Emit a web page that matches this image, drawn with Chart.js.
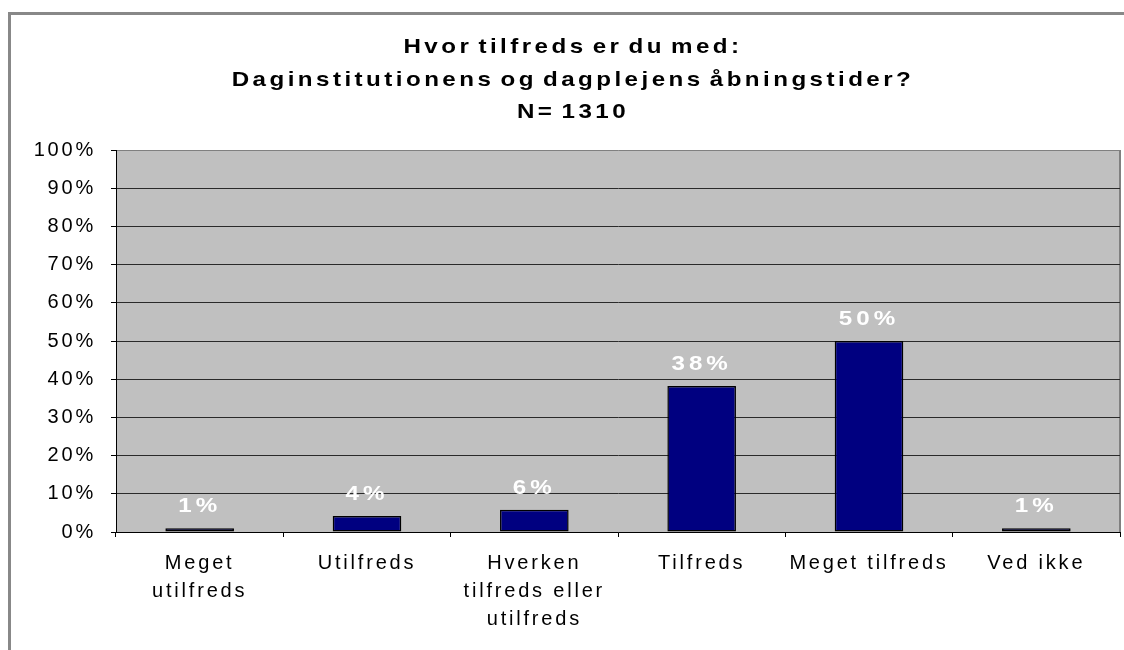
<!DOCTYPE html>
<html lang="da">
<head>
  <meta charset="UTF-8">
  <title>Hvor tilfreds er du med åbningstider</title>
  <script src="https://cdn.jsdelivr.net/npm/chart.js"></script>
  <style>
    html, body { margin: 0; padding: 0; background: #fff; overflow: hidden; }
    #frame {
      position: absolute; left: 8px; top: 12px; width: 1300px; height: 800px;
      border-left: 3px solid #888; border-top: 3px solid #888;
    }
    #chart { position: absolute; left: 0; top: 0; }
  </style>
</head>
<body>
  <div id="frame"></div>
  <canvas id="chart" width="1124" height="650"></canvas>
  <script>
    // data
    const categories = [
      ['Meget', 'utilfreds'],
      'Utilfreds',
      ['Hverken', 'tilfreds eller', 'utilfreds'],
      'Tilfreds',
      'Meget tilfreds',
      'Ved ikke'
    ];
    const percentages = [1.0, 4.2, 5.8, 38.2, 50.0, 1.0];
    const titleLines = ['Hvor tilfreds er du med:', 'Daginstitutionens og dagplejens åbningstider?', 'N= 1310'];
    const yTicks = [0, 10, 20, 30, 40, 50, 60, 70, 80, 90, 100];

    const FONT = '"Liberation Sans", Arial, sans-serif';
    const TICK_SPACING = '2.8px';
    const WIDEN = 1.15; // the original text is drawn a bit wider than Arial

    // plot area background + right edge
    const plotBg = {
      id: 'plotBg',
      beforeLayout(chart) { chart.ctx.letterSpacing = TICK_SPACING; },
      beforeDraw(chart) {
        const { ctx, chartArea: a } = chart;
        ctx.letterSpacing = TICK_SPACING;
        ctx.save();
        ctx.fillStyle = '#c0c0c0';
        ctx.fillRect(a.left, a.top, a.right - a.left, a.bottom - a.top);
        ctx.strokeStyle = '#808080';
        ctx.lineWidth = 2;
        ctx.beginPath();
        ctx.moveTo(a.right, a.top);
        ctx.lineTo(a.right, a.bottom);
        ctx.stroke();
        ctx.restore();
      }
    };

    // white value labels above the bars
    const valueLabels = {
      id: 'valueLabels',
      afterDatasetsDraw(chart) {
        const ctx = chart.ctx;
        const meta = chart.getDatasetMeta(0);
        meta.data.forEach((bar, i) => {
          ctx.save();
          ctx.font = 'bold 21px ' + FONT;
          ctx.letterSpacing = '3.5px';
          ctx.fillStyle = '#ffffff';
          ctx.textAlign = 'center';
          ctx.textBaseline = 'middle';
          ctx.translate(bar.x, bar.y - 22);
          ctx.scale(WIDEN, 1);
          ctx.fillText(Math.round(percentages[i]) + '%', 0, 0);
          ctx.restore();
        });
      }
    };

    const chart = new Chart(document.getElementById('chart'), {
      type: 'bar',
      data: {
        labels: categories,
        datasets: [{
          data: percentages,
          backgroundColor: '#000080',
          borderColor: '#000000',
          borderWidth: 1.5,
          borderSkipped: false,
          categoryPercentage: 1,
          barPercentage: 0.41
        }]
      },
      options: {
        responsive: false,
        animation: false,
        layout: { padding: { left: 26, right: 4, top: 0, bottom: 0 } },
        plugins: {
          legend: { display: false },
          tooltip: { enabled: false },
          title: {
            display: true,
            text: titleLines,
            color: '#000',
            font: { family: FONT, size: 21, weight: 'bold', lineHeight: '32.5px' },
            padding: { top: 31, bottom: 21.5 }
          }
        },
        scales: {
          x: {
            grid: { drawOnChartArea: false, color: '#000', tickLength: 5 },
            border: { color: '#000', width: 1 },
            ticks: {
              color: '#000',
              font: { family: FONT, size: 20, lineHeight: '28px' },
              padding: 12,
              autoSkip: false,
              maxRotation: 0
            },
            afterFit(scale) { scale.height = 118; }
          },
          y: {
            min: 0,
            max: 100,
            afterBuildTicks(scale) { scale.ticks = yTicks.map(v => ({ value: v })); },
            grid: {
              color: ctx => ctx.tick && ctx.tick.value === 100 ? '#808080' : '#2a2a2a',
              tickColor: '#000',
              tickLength: 5
            },
            border: { color: '#000', width: 1 },
            ticks: {
              color: '#000',
              font: { family: FONT, size: 20 },
              padding: 15,
              callback: v => v + '%'
            },
            afterFit(scale) { scale.width = 90; }
          }
        }
      },
      plugins: [plotBg, valueLabels]
    });

    // title: widened glyphs, some letter spacing, narrow word gaps
    const tb = chart.titleBlock;
    const origDraw = tb.draw.bind(tb);
    tb.draw = function () {
      const c = chart.ctx;
      const prevL = c.letterSpacing, prevW = c.wordSpacing;
      const cx = (tb.left + tb.right) / 2;
      c.save();
      c.letterSpacing = '3px';
      c.wordSpacing = '-3.5px';
      c.translate(cx, 0);
      c.scale(WIDEN, 1);
      c.translate(-cx, 0);
      origDraw();
      c.restore();
      c.letterSpacing = prevL;
      c.wordSpacing = prevW;
    };
    chart.draw();
  </script>
</body>
</html>
